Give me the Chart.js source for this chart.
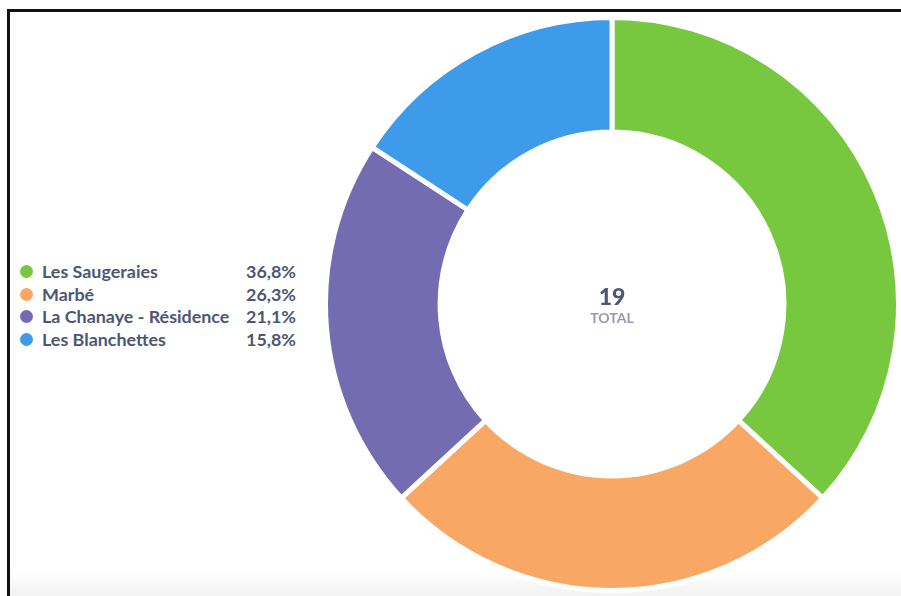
<!DOCTYPE html>
<html>
<head>
<meta charset="utf-8">
<script src="https://cdn.jsdelivr.net/npm/chart.js@4/dist/chart.umd.min.js"></script>
<style>
  html, body { margin: 0; padding: 0; background: #fff; }
  body { width: 901px; height: 596px; overflow: hidden; position: relative; font-family: Lato, "Noto Sans", sans-serif; }
  #frame { position: absolute; left: 7px; top: 9px; width: 1000px; height: 700px; border-top: 3px solid #111; border-left: 3px solid #111; }
  #fade { position: absolute; left: 10px; right: 0; bottom: 0; height: 24px; background: linear-gradient(to bottom, rgba(240,240,240,0), rgba(240,240,240,0.9)); }
  #wrap { position: absolute; left: 323px; top: 15px; width: 578px; height: 578px; }
  #legend { position: absolute; left: 20px; top: 260px; width: 280px; }
  .row { position: relative; height: 22.5px; line-height: 22.5px; font-size: 17.9px; font-weight: 700; color: #4c5773; }
  .dot { position: absolute; left: 0; top: 5px; width: 13px; height: 13px; border-radius: 50%; }
  .lbl { position: absolute; left: 22px; }
  .pct { position: absolute; right: 4px; }
  #center { position: absolute; left: 562px; width: 100px; top: 282px; text-align: center; pointer-events: none; }
  #total { font-size: 23px; font-weight: 900; color: #4c5773; line-height: 28px; }
  #totalLbl { font-size: 14px; font-weight: 700; color: #949aab; line-height: 16px; margin-top: 0px; }
</style>
</head>
<body>
<div id="frame"></div>
<div id="fade"></div>
<div id="legend"></div>
<div id="wrap"><canvas id="donut" width="578" height="578"></canvas></div>
<div id="center"><div id="total"></div><div id="totalLbl">TOTAL</div></div>
<script>
// Données
const categories = ['Les Saugeraies', 'Marbé', 'La Chanaye - Résidence', 'Les Blanchettes'];
const valeurs = [7, 5, 4, 3];
const couleurs = ['#78c83f', '#f9a764', '#746cb1', '#3e9bea'];

const total = valeurs.reduce((a, b) => a + b, 0);

// Légende à gauche
const legende = document.getElementById('legend');
categories.forEach((nom, i) => {
    const pct = (valeurs[i] / total * 100).toFixed(1).replace('.', ',') + '%';
    const row = document.createElement('div');
    row.className = 'row';
    row.innerHTML = '<span class="dot" style="background:' + couleurs[i] + '"></span>' +
        '<span class="lbl">' + nom + '</span><span class="pct">' + pct + '</span>';
    legende.appendChild(row);
});
document.getElementById('total').textContent = total;

const ctx = document.getElementById('donut').getContext('2d');
new Chart(ctx, {
    type: 'doughnut',
    data: {
        labels: categories,
        datasets: [{
            data: valeurs,
            backgroundColor: couleurs,
            borderColor: '#ffffff',
            borderWidth: 5,
            hoverOffset: 0
        }]
    },
    options: {
        responsive: false,
        animation: false,
        cutout: '60%',
        layout: { padding: 0 },
        plugins: {
            legend: { display: false },
            tooltip: { enabled: false }
        }
    }
});
</script>
</body>
</html>
